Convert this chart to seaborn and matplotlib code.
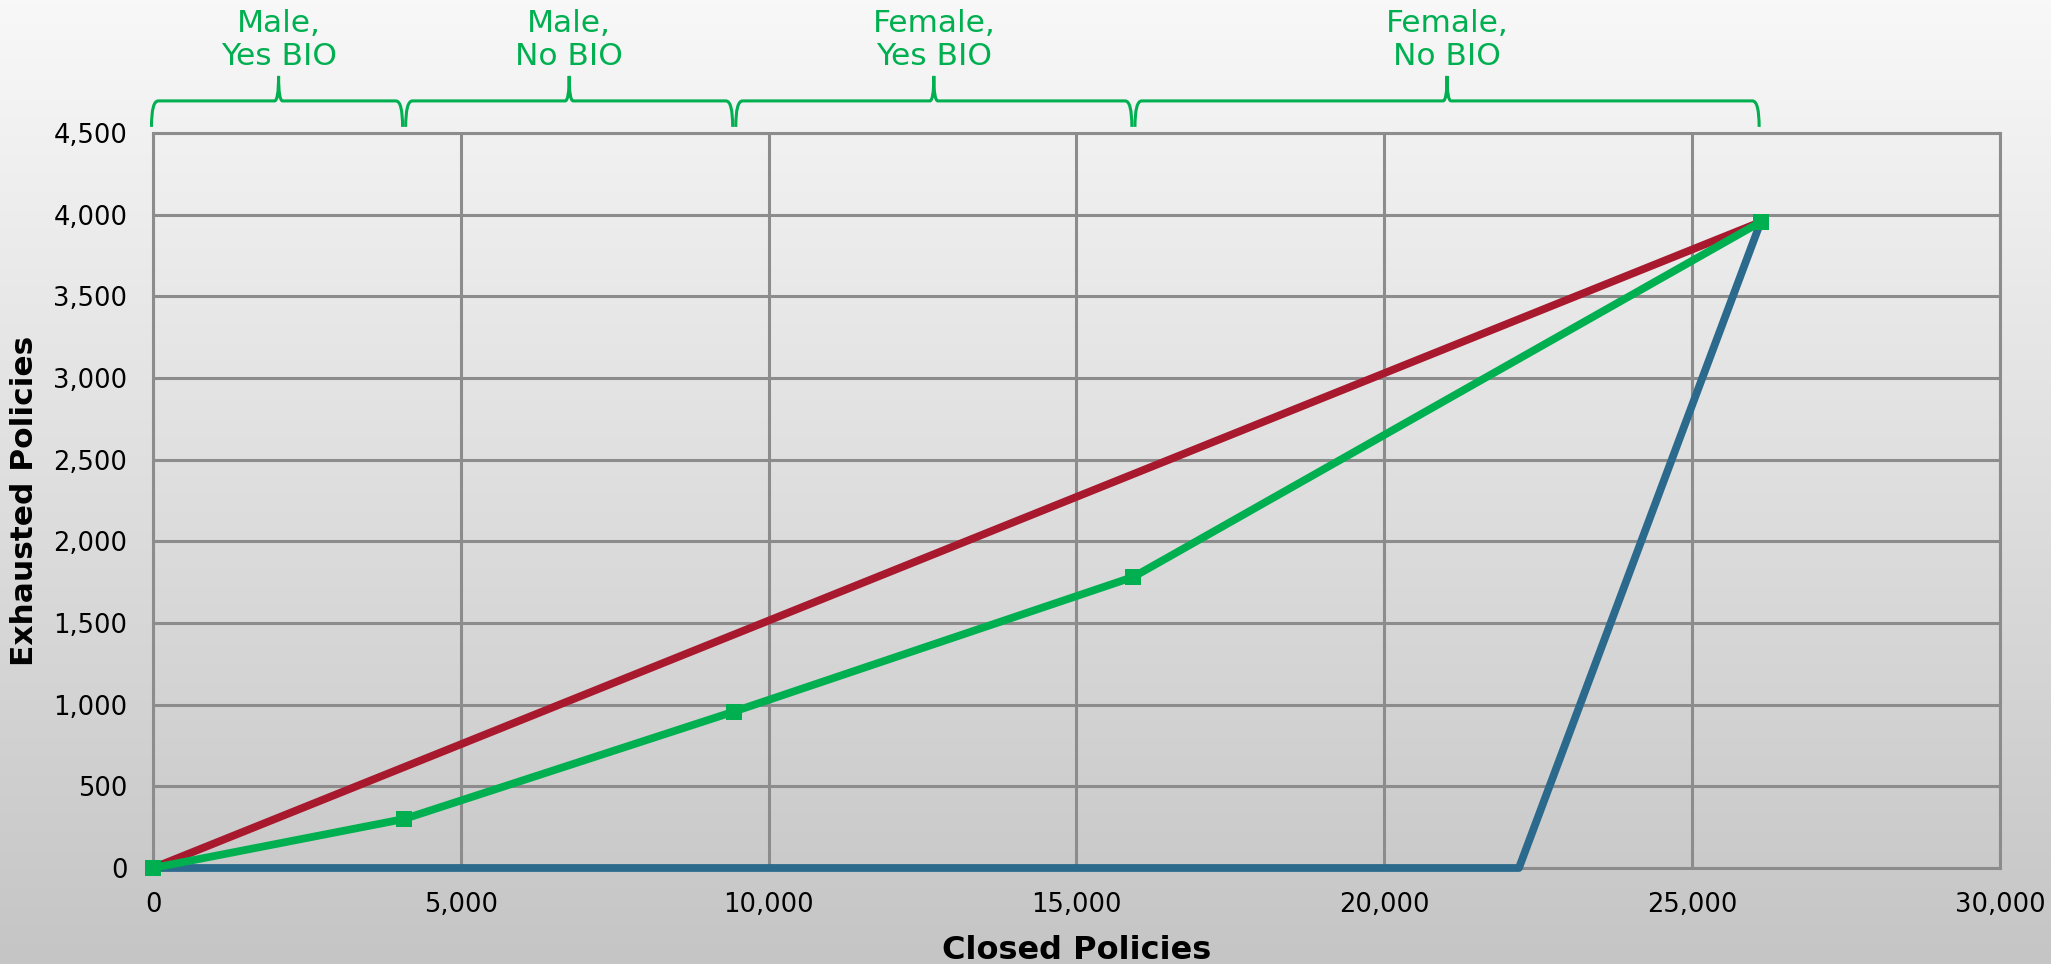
import numpy as np
import pandas as pd
import matplotlib
matplotlib.use("Agg")
import matplotlib.pyplot as plt
from matplotlib.path import Path
from matplotlib.patches import PathPatch
from matplotlib.ticker import FuncFormatter, MultipleLocator
import seaborn as sns

# --- data -------------------------------------------------------------
# cumulative closed vs. exhausted policies for three orderings
red_x = [0, 26114]
red_y = [0, 3955]

green_x = [0, 4079, 9441, 15925, 26114]
green_y = [0, 300, 958, 1782, 3955]

blue_x = [0, 22187, 26114]
blue_y = [0, 0, 3955]

segment_labels = ["Male,\nYes BIO", "Male,\nNo BIO", "Female,\nYes BIO", "Female,\nNo BIO"]

x_label = "Closed Policies"
y_label = "Exhausted Policies"

RED = "#a8192e"
GREEN = "#00b050"
BLUE = "#2b6a8c"
GRID = "#8c8c8c"

sns.set_style("white")
plt.rcParams["font.family"] = ["DejaVu Sans"]

fig = plt.figure(figsize=(20.51, 9.64), dpi=100)

# vertical grey gradient behind everything
bg = fig.add_axes([0, 0, 1, 1], zorder=0)
grad = np.linspace(0, 1, 256).reshape(-1, 1)
bg.imshow(grad, aspect="auto", cmap=matplotlib.colors.LinearSegmentedColormap.from_list(
    "bg", ["#f8f8f8", "#c5c5c5"]), extent=[0, 1, 0, 1], origin="upper")
bg.set_axis_off()

ax = fig.add_axes([0.0746, 0.0996, 0.9005, 0.7625], zorder=1)
ax.set_facecolor("none")

df_blue = pd.DataFrame({"x": blue_x, "y": blue_y})
df_red = pd.DataFrame({"x": red_x, "y": red_y})
df_green = pd.DataFrame({"x": green_x, "y": green_y})

lw = 5.6
sns.lineplot(data=df_blue, x="x", y="y", ax=ax, color=BLUE, linewidth=lw,
             solid_capstyle="butt", zorder=3)
sns.lineplot(data=df_red, x="x", y="y", ax=ax, color=RED, linewidth=lw,
             solid_capstyle="butt", zorder=4)
sns.lineplot(data=df_green, x="x", y="y", ax=ax, color=GREEN, linewidth=lw,
             marker="s", markersize=11, markeredgewidth=0, solid_capstyle="butt", zorder=5)
for ln in ax.get_lines():
    ln.set_clip_on(False)

ax.set_xlim(0, 30000)
ax.set_ylim(0, 4500)
ax.xaxis.set_major_locator(MultipleLocator(5000))
ax.yaxis.set_major_locator(MultipleLocator(500))
fmt = FuncFormatter(lambda v, p: f"{int(v):,}")
ax.xaxis.set_major_formatter(fmt)
ax.yaxis.set_major_formatter(fmt)

ax.grid(True, color=GRID, linewidth=2.2)
ax.set_axisbelow(True)
for s in ax.spines.values():
    s.set_color(GRID)
    s.set_linewidth(2.2)
    s.set_zorder(1)

ax.tick_params(axis="both", which="major", direction="out", length=6.5, width=2.2,
               color=GRID, labelsize=18.5, labelcolor="black")
ax.tick_params(axis="y", pad=12)
ax.tick_params(axis="x", pad=11)
ax.set_xlabel(x_label, fontsize=23, fontweight="bold", labelpad=12, color="black")
ax.set_ylabel(y_label, fontsize=22.5, fontweight="bold", labelpad=10, color="black")

# curly braces marking each segment of the green curve
y_base = 4537
y_bar = 4696
y_tip = 4849
r = 110
gap = 25
for i, label in enumerate(segment_labels):
    x0 = green_x[i] + (gap if i > 0 else -25)
    x1 = green_x[i + 1] - gap
    xm = (green_x[i] + green_x[i + 1]) / 2
    verts = [
        (x0, y_base), (x0, y_bar), (x0 + r, y_bar),
        (xm - r * 0.6, y_bar),
        (xm, y_bar), (xm, y_tip),
        (xm, y_bar), (xm + r * 0.6, y_bar),
        (x1 - r, y_bar),
        (x1, y_bar), (x1, y_base),
    ]
    codes = [
        Path.MOVETO, Path.CURVE3, Path.CURVE3,
        Path.LINETO,
        Path.CURVE3, Path.CURVE3,
        Path.CURVE3, Path.CURVE3,
        Path.LINETO,
        Path.CURVE3, Path.CURVE3,
    ]
    patch = PathPatch(Path(verts, codes), facecolor="none", edgecolor=GREEN,
                      linewidth=2.2, clip_on=False, zorder=6)
    ax.add_patch(patch)
    ax.text(xm, 5070, label, ha="center", va="center", color=GREEN,
            fontsize=22.5, clip_on=False, linespacing=1.15)

fig.savefig("out.png", dpi=100)
